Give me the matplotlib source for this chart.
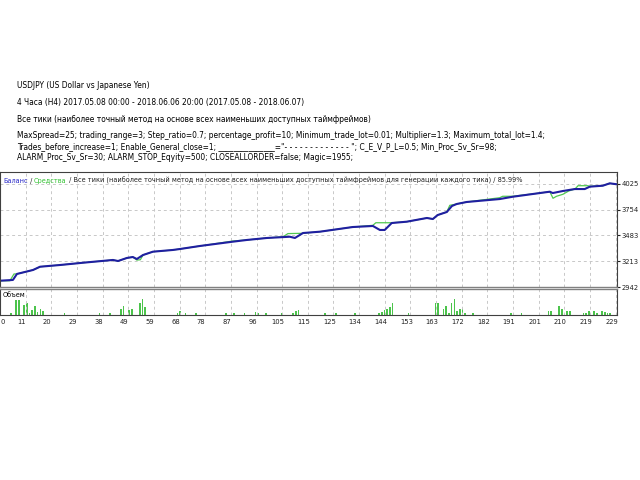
import numpy as np
import matplotlib
matplotlib.use("Agg")
import matplotlib.pyplot as plt
from matplotlib import transforms

# header texts
symbol_line = "USDJPY (US Dollar vs Japanese Yen)"
period_line = "4 Часа (H4) 2017.05.08 00:00 - 2018.06.06 20:00 (2017.05.08 - 2018.06.07)"
model_line = "Все тики (наиболее точный метод на основе всех наименьших доступных таймфреймов)"
param_lines = [
    "MaxSpread=25; trading_range=3; Step_ratio=0.7; percentage_profit=10; Minimum_trade_lot=0.01; Multiplier=1.3; Maximum_total_lot=1.4;",
    'Trades_before_increase=1; Enable_General_close=1; _______________="- - - - - - - - - - - - - "; C_E_V_P_L=0.5; Min_Proc_Sv_Sr=98;',
    "ALARM_Proc_Sv_Sr=30; ALARM_STOP_Eqyity=500; CLOSEALLORDER=false; Magic=1955;",
]
chart_title = "Все тики (наиболее точный метод на основе всех наименьших доступных таймфреймов для генерации каждого тика)"
quality = "85.99%"

# balance curve (trade number, deposit)
balance_t = [0, 4.8, 6.3, 12.3, 14.9, 22.3, 30.9, 42, 43.9, 47.2, 49.4, 50.9, 53.2, 56.9,
             64.3, 66.9, 74.4, 86.6, 91.8, 99.3, 107.8, 109.7, 112.7, 119, 131.2, 138.7,
             141.3, 143.1, 145.7, 151.3, 158.8, 161, 162.8, 166.2, 168.1, 169.9, 173.6,
             185.9, 190.7, 200.8, 204.5, 205.6, 209.3, 213.8, 217.5, 219.4, 224.2, 226.8, 229.4]
balance = [3008, 3016, 3079, 3121, 3155, 3173, 3197, 3226, 3215, 3247, 3257, 3236, 3278, 3313,
           3331, 3341, 3373, 3418, 3436, 3457, 3470, 3457, 3509, 3523, 3572, 3583,
           3541, 3541, 3614, 3628, 3667, 3656, 3698, 3730, 3793, 3814, 3835,
           3866, 3890, 3929, 3943, 3929, 3950, 3971, 3971, 3996, 4006, 4031, 4021]

# equity curve
equity_t = [0, 3.7, 5.2, 6.3, 12.3, 14.9, 22.3, 30.9, 42, 43.9, 47.2, 49.4, 50.9, 52.2, 53.2,
            56.9, 64.3, 66.9, 74.4, 86.6, 91.8, 99.3, 105.3, 107.1, 112.3, 119, 131.2, 138.7,
            139.8, 145.7, 151.3, 158.8, 161, 162.8, 166.2, 167.3, 169.9, 173.6, 185.9, 187,
            190.7, 200.8, 204.5, 205.7, 207, 209.4, 211.5, 213.8, 214.5, 215, 218.6, 219.4,
            224.2, 226.8, 229.4]
equity = [3008, 3008, 3079, 3079, 3121, 3155, 3173, 3197, 3226, 3215, 3247, 3257, 3225, 3228, 3278,
          3313, 3331, 3341, 3373, 3425, 3436, 3457, 3470, 3503, 3506, 3523, 3572, 3590,
          3617, 3617, 3628, 3667, 3656, 3698, 3730, 3800, 3814, 3835, 3880, 3895,
          3895, 3929, 3943, 3874, 3895, 3916, 3950, 3971, 3990, 4006, 4006, 4000,
          4006, 4031, 4021]

# volume (lots) per trade number
vol_t = [4, 6, 7, 9, 10, 11, 12, 13, 14, 15, 16, 24, 37, 41, 45, 46, 48, 49, 52, 53, 54,
         66, 67, 69, 73, 84, 87, 91, 95, 96, 99, 105, 109, 110, 111, 121, 125, 132,
         141, 142, 143, 144, 145, 146, 152, 162, 163, 165, 166, 167, 168, 169, 170, 171,
         172, 173, 176, 190, 194, 204, 205, 208, 209, 210, 211, 212, 217, 218, 219, 221,
         222, 224, 225, 226, 227]
vol = [0.02, 0.15, 0.15, 0.10, 0.12, 0.02, 0.05, 0.09, 0.03, 0.06, 0.04, 0.02, 0.02, 0.02,
       0.06, 0.09, 0.05, 0.06, 0.12, 0.16, 0.08,
       0.02, 0.04, 0.02, 0.02, 0.02, 0.02, 0.02, 0.03, 0.02, 0.02, 0.02, 0.02, 0.04, 0.05,
       0.02, 0.02, 0.02,
       0.02, 0.03, 0.05, 0.06, 0.08, 0.12, 0.02, 0.12, 0.12, 0.06, 0.09, 0.02, 0.12, 0.16,
       0.04, 0.06, 0.07, 0.02, 0.02, 0.02, 0.02, 0.04, 0.04, 0.09, 0.06, 0.02, 0.04, 0.04,
       0.02, 0.02, 0.04, 0.04, 0.02, 0.04, 0.03, 0.02, 0.02]

y_ticks = [2942, 3213, 3483, 3754, 4025]
x_labels = ["0", "11", "20", "29", "38", "49", "59", "68", "78", "87", "96", "105", "115",
            "125", "134", "144", "153", "163", "172", "182", "191", "201", "210", "219", "229"]

plt.rcParams['font.family'] = ['DejaVu Sans']
fs = 5.45      # text block above the chart
fs_in = 4.7    # header inside the chart
fs_tick = 4.9
frame = '#404040'
grid_c = '#c8c8c8'

fig = plt.figure(figsize=(6.4, 4.8), dpi=100)

# text block above the chart
fig.text(17/640, 1 - 86/480, symbol_line, fontsize=fs, va='center')
fig.text(17/640, 1 - 103/480, period_line, fontsize=fs, va='center')
fig.text(17/640, 1 - 119/480, model_line, fontsize=fs, va='center')
for i, line in enumerate(param_lines):
    fig.text(17/640, 1 - (135 + i*11.5)/480, line, fontsize=fs, va='center')

ax1 = fig.add_axes([0, (480-287)/480, 617/640, 115/480])
ax2 = fig.add_axes([0, (480-315)/480, 617/640, 26/480], sharex=ax1)

ax1.plot(equity_t, equity, color='#50c850', lw=0.9)
ax1.plot(balance_t, balance, color='#1f1fa0', lw=1.5)
ax1.set_ylim(2942, 4150)
ax1.set_xlim(0, 229.5)
ax1.set_yticks(y_ticks)
ax1.yaxis.tick_right()
ax1.tick_params(axis='y', labelsize=fs_tick, length=2, pad=1.5, colors='#202020')
ax1.tick_params(axis='x', bottom=False, labelbottom=False)
ax1.grid(color=grid_c, linestyle=(0, (3, 3)), lw=0.7)

# coloured header inside the chart
t = ax1.text(3/617, 1 - 9/115, "Баланс", color='#2828c8', fontsize=fs_in, va='center',
             transform=ax1.transAxes)
for part, col in [(" / ", '#202020'), ("Средства", '#30c030'),
                  (" / " + chart_title + " / " + quality, '#202020')]:
    t = ax1.annotate(part, xy=(1, 0), xycoords=t, va='bottom', color=col, fontsize=fs_in)

ax2.bar(vol_t, vol, width=0.6, color='#4cc44c')
ax2.set_ylim(0, 0.26)
ax2.set_yticks([])
x_pos = np.linspace(0, 229, len(x_labels))
ax2.set_xticks(x_pos)
ax2.set_xticklabels(x_labels)
ax2.tick_params(axis='x', labelsize=fs_tick, length=0, pad=3, colors='#202020')
ax2.grid(axis='x', color=grid_c, linestyle=(0, (3, 3)), lw=0.7)
ax2.text(3/617, 0.76, "Объем", fontsize=fs_in, va='center', transform=ax2.transAxes)

for i, lab in enumerate(ax2.get_xticklabels()):
    dx = 3 if i == 0 else -4
    lab.set_transform(lab.get_transform() + transforms.ScaledTranslation(dx/100, 0, fig.dpi_scale_trans))

for ax in (ax1, ax2):
    for s in ax.spines.values():
        s.set_color(frame)
        s.set_linewidth(0.8)
ax1.spines['bottom'].set_color('#808080')
ax1.spines['bottom'].set_linewidth(1.0)
ax2.spines['top'].set_color('#808080')
ax2.spines['top'].set_linewidth(1.0)

fig.savefig("out.png", dpi=100)
